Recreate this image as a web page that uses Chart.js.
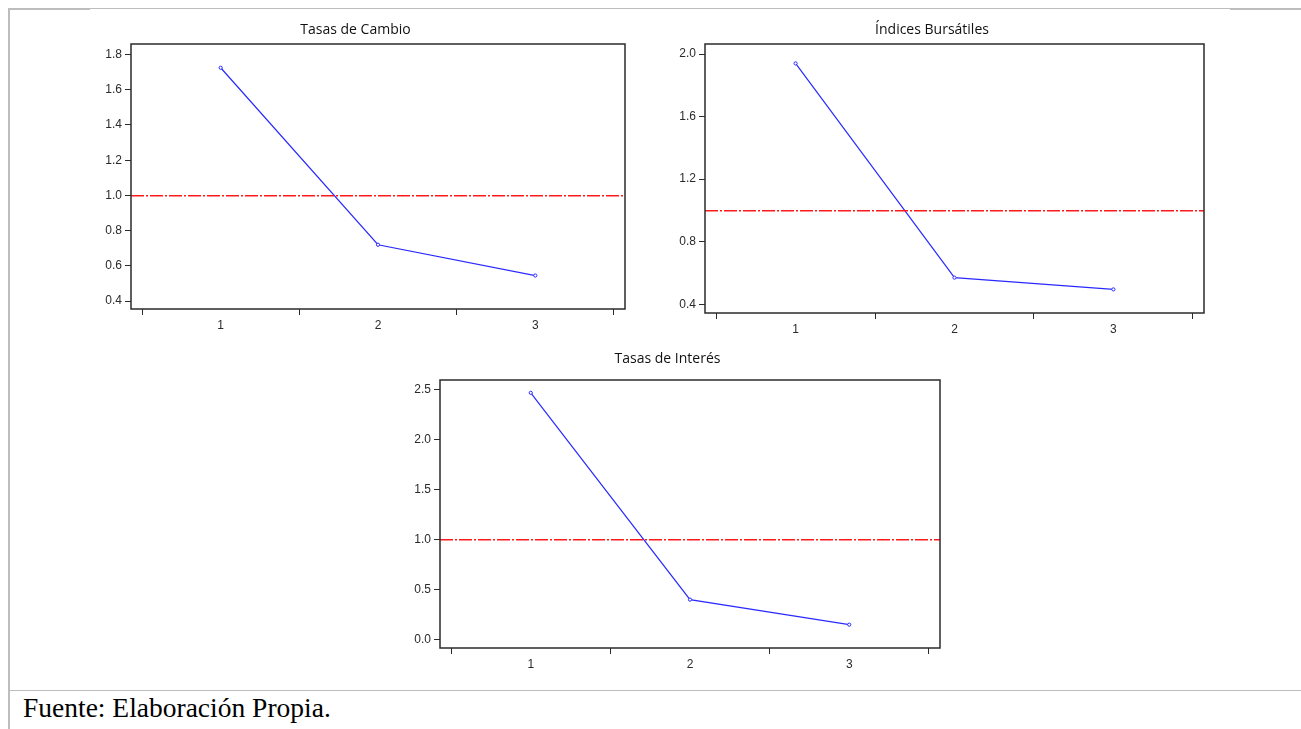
<!DOCTYPE html>
<html>
<head>
<meta charset="utf-8">
<script src="https://cdn.jsdelivr.net/npm/chart.js@4"></script>
<style>
  body { margin: 0; background: #fff; }
  #page { position: relative; width: 1301px; height: 729px; overflow: hidden; }
  .box { position: absolute; }
  .line { position: absolute; background: #bdbdbd; }
  #fuente { position: absolute; left: 23px; top: 692px; font-family: "Liberation Serif", "Times New Roman", serif; font-size: 27.5px; color: #000; white-space: nowrap; }
</style>
</head>
<body>
<div id="page">
  <!-- bordes de la celda -->
  <div class="line" style="left:8px; top:8px; width:82px; height:2px;"></div>
  <div class="line" style="left:90px; top:8px; width:1140px; height:1px;"></div>
  <div class="line" style="left:1230px; top:8px; width:71px; height:2px;"></div>
  <div class="line" style="left:8px; top:8px; width:2px; height:721px;"></div>
  <div class="line" style="left:8px; top:690px; width:1293px; height:1px;"></div>

  <div class="box" style="left:86px; top:20px; width:545px; height:317px;"><canvas id="c1"></canvas></div>
  <div class="box" style="left:660px; top:20px; width:550px; height:321px;"><canvas id="c2"></canvas></div>
  <div class="box" style="left:395px; top:349px; width:551px; height:327px;"><canvas id="c3"></canvas></div>

  <div id="fuente">Fuente: Elaboración Propia.</div>
</div>

<script>
// datos
const periodos = [1, 2, 3];
const tasasCambio = [1.725, 0.72, 0.545];
const indicesBursatiles = [1.94, 0.57, 0.495];
const tasasInteres = [2.465, 0.40, 0.15];
const valorReferencia = 1.0;

// marcas de los ejes
const xTicks = [0.5, 1, 1.5, 2, 2.5, 3, 3.5];
const yTicksCambio = [0.4, 0.6, 0.8, 1.0, 1.2, 1.4, 1.6, 1.8];
const yTicksBursatiles = [0.4, 0.8, 1.2, 1.6, 2.0];
const yTicksInteres = [0.0, 0.5, 1.0, 1.5, 2.0, 2.5];

const axisColor = '#2b2b2b';
const labelColor = '#2a2a2a';

// línea de referencia roja y marco del área
const marcoPlugin = {
    id: 'marco',
    afterDraw(chart) {
        const { ctx, chartArea, scales } = chart;
        const y = scales.y.getPixelForValue(valorReferencia) + 0.25;
        ctx.save();
        ctx.strokeStyle = '#ff1a1a';
        ctx.lineWidth = 1.5;
        ctx.setLineDash([13, 2, 2, 2]);
        ctx.beginPath();
        ctx.moveTo(chartArea.left, y);
        ctx.lineTo(chartArea.right, y);
        ctx.stroke();
        ctx.setLineDash([]);
        ctx.strokeStyle = axisColor;
        ctx.lineWidth = 1.5;
        ctx.strokeRect(chartArea.left, chartArea.top, chartArea.right - chartArea.left, chartArea.bottom - chartArea.top);
        ctx.restore();
    }
};

function makeChart(id, title, values, yTicks, yMin, yMax, titleGap) {
    const ctx = document.getElementById(id).getContext('2d');
    return new Chart(ctx, {
        type: 'line',
        data: {
            datasets: [{
                data: periodos.map((p, i) => ({ x: p, y: values[i] })),
                borderColor: '#2a2aff',
                borderWidth: 1.2,
                pointRadius: 1.6,
                pointBorderWidth: 1,
                pointBackgroundColor: '#ffffff',
                pointBorderColor: '#2a2aff',
                tension: 0
            }]
        },
        options: {
            responsive: true,
            maintainAspectRatio: false,
            animation: false,
            layout: { padding: { left: 0, right: 6, top: 0, bottom: 0 } },
            plugins: {
                legend: { display: false },
                tooltip: { enabled: false },
                title: {
                    display: true,
                    text: title,
                    color: '#111',
                    font: { family: 'Open Sans', size: 14, weight: 'normal', lineHeight: 1 },
                    padding: { top: 3, bottom: titleGap }
                }
            },
            scales: {
                x: {
                    type: 'linear',
                    min: 0.43,
                    max: 3.57,
                    afterBuildTicks: axis => { axis.ticks = xTicks.map(v => ({ value: v })); },
                    afterFit: axis => { axis.height = 28; },
                    border: { display: false },
                    grid: {
                        drawOnChartArea: false,
                        drawTicks: true,
                        tickLength: 6,
                        lineWidth: 1,
                        color: c => (c.tick && c.tick.value % 1 !== 0) ? axisColor : 'rgba(0,0,0,0)'
                    },
                    ticks: {
                        autoSkip: false,
                        maxRotation: 0,
                        padding: 3,
                        color: labelColor,
                        font: { family: 'Liberation Sans', size: 12 },
                        callback: v => (v % 1 === 0 ? String(v) : '')
                    }
                },
                y: {
                    min: yMin,
                    max: yMax,
                    afterBuildTicks: axis => { axis.ticks = yTicks.map(v => ({ value: v })); },
                    afterFit: axis => { axis.width = 45; },
                    border: { display: false },
                    grid: {
                        drawOnChartArea: false,
                        drawTicks: true,
                        tickLength: 6,
                        lineWidth: 1,
                        color: axisColor
                    },
                    ticks: {
                        padding: 3,
                        color: labelColor,
                        font: { family: 'Liberation Sans', size: 12 },
                        callback: v => Number(v).toFixed(1)
                    }
                }
            }
        },
        plugins: [marcoPlugin]
    });
}

makeChart('c1', 'Tasas de Cambio', tasasCambio, yTicksCambio, 0.355, 1.86, 7);
makeChart('c2', 'Índices Bursátiles', indicesBursatiles, yTicksBursatiles, 0.344, 2.064, 7);
makeChart('c3', 'Tasas de Interés', tasasInteres, yTicksInteres, -0.083, 2.593, 14);
</script>
</body>
</html>
